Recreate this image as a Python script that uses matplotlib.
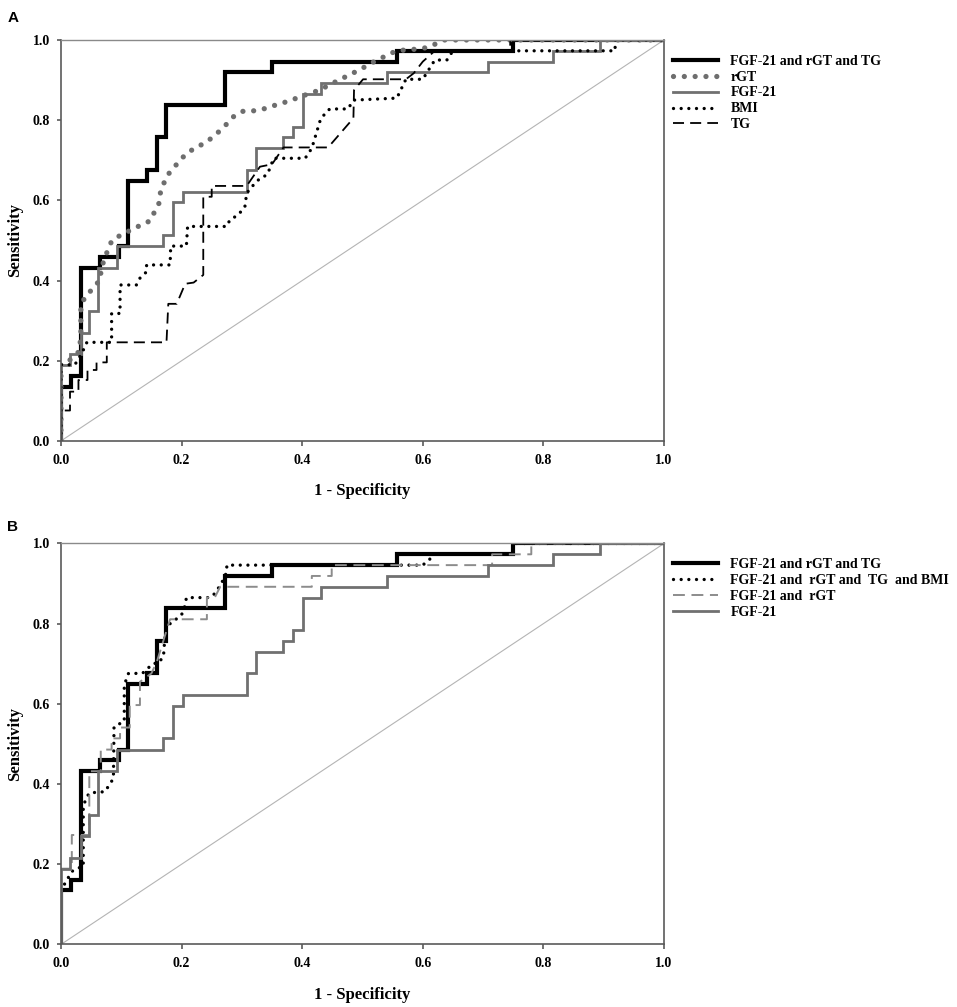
import matplotlib
matplotlib.use('Agg')
import matplotlib.pyplot as plt

plt.rcParams['font.family'] = ['Liberation Serif', 'DejaVu Serif']
plt.rcParams['font.weight'] = 'bold'

# ROC curves: x = 1 - specificity, y = sensitivity
combo3_x = [0, 0, 0.016, 0.016, 0.033, 0.033, 0.065, 0.065, 0.097, 0.097, 0.112, 0.112, 0.143, 0.143,
            0.160, 0.160, 0.174, 0.174, 0.272, 0.272, 0.350, 0.350, 0.557, 0.557, 0.750, 0.750, 1.0]
combo3_y = [0, 0.135, 0.135, 0.162, 0.162, 0.432, 0.432, 0.459, 0.459, 0.486, 0.486, 0.649, 0.649, 0.676,
            0.676, 0.757, 0.757, 0.838, 0.838, 0.919, 0.919, 0.946, 0.946, 0.973, 0.973, 1.0, 1.0]

rgt_x = [0, 0, 0.012, 0.030, 0.033, 0.033, 0.040, 0.055, 0.066, 0.066, 0.073, 0.078, 0.085, 0.100, 0.116,
         0.132, 0.148, 0.156, 0.164, 0.165, 0.171, 0.179, 0.193, 0.208, 0.224, 0.240, 0.256, 0.272, 0.287,
         0.303, 0.318, 0.334, 0.350, 0.366, 0.382, 0.398, 0.413, 0.429, 0.445, 0.461, 0.477, 0.493, 0.509,
         0.524, 0.540, 0.556, 0.571, 0.588, 0.603, 0.618, 0.636, 1.0]
rgt_y = [0, 0.190, 0.198, 0.223, 0.260, 0.335, 0.360, 0.383, 0.405, 0.430, 0.455, 0.479, 0.501, 0.514, 0.526,
         0.538, 0.549, 0.574, 0.597, 0.621, 0.644, 0.667, 0.692, 0.717, 0.732, 0.744, 0.763, 0.786, 0.810,
         0.823, 0.823, 0.827, 0.835, 0.842, 0.850, 0.859, 0.867, 0.875, 0.888, 0.900, 0.912, 0.924, 0.937,
         0.950, 0.961, 0.973, 0.975, 0.977, 0.980, 0.988, 1.0, 1.0]

fgf_x = [0, 0, 0.015, 0.015, 0.034, 0.034, 0.047, 0.047, 0.062, 0.062, 0.093, 0.093, 0.170, 0.170, 0.185,
         0.185, 0.202, 0.202, 0.308, 0.308, 0.323, 0.323, 0.369, 0.369, 0.385, 0.385, 0.402, 0.402, 0.432,
         0.432, 0.540, 0.540, 0.708, 0.708, 0.816, 0.816, 0.894, 0.894, 1.0]
fgf_y = [0, 0.189, 0.189, 0.216, 0.216, 0.270, 0.270, 0.324, 0.324, 0.432, 0.432, 0.486, 0.486, 0.514, 0.514,
         0.595, 0.595, 0.622, 0.622, 0.676, 0.676, 0.730, 0.730, 0.757, 0.757, 0.784, 0.784, 0.865, 0.865,
         0.892, 0.892, 0.919, 0.919, 0.946, 0.946, 0.973, 0.973, 1.0, 1.0]

bmi_x = [0, 0, 0.023, 0.035, 0.043, 0.084, 0.084, 0.098, 0.098, 0.125, 0.131, 0.142, 0.142, 0.181, 0.182,
         0.208, 0.210, 0.275, 0.280, 0.294, 0.305, 0.308, 0.319, 0.330, 0.341, 0.348, 0.352, 0.405, 0.416,
         0.421, 0.430, 0.440, 0.446, 0.476, 0.485, 0.557, 0.572, 0.600, 0.620, 0.640, 0.650, 0.919, 0.919, 1.0]
bmi_y = [0, 0.190, 0.190, 0.220, 0.246, 0.246, 0.318, 0.318, 0.389, 0.389, 0.406, 0.422, 0.439, 0.439, 0.486,
         0.486, 0.535, 0.535, 0.551, 0.564, 0.584, 0.618, 0.638, 0.655, 0.663, 0.684, 0.705, 0.705, 0.730,
         0.755, 0.800, 0.821, 0.828, 0.828, 0.850, 0.855, 0.902, 0.902, 0.950, 0.950, 0.973, 0.973, 1.0, 1.0]

tg_x = [0, 0, 0.015, 0.015, 0.029, 0.029, 0.044, 0.044, 0.059, 0.059, 0.076, 0.076, 0.175, 0.178, 0.192,
        0.206, 0.220, 0.236, 0.236, 0.250, 0.250, 0.308, 0.330, 0.350, 0.369, 0.443, 0.485, 0.486, 0.501,
        0.572, 0.585, 0.600, 0.620, 0.745, 0.745, 1.0]
tg_y = [0, 0.076, 0.076, 0.123, 0.123, 0.152, 0.152, 0.177, 0.177, 0.196, 0.196, 0.246, 0.246, 0.342, 0.342,
        0.392, 0.395, 0.414, 0.609, 0.609, 0.636, 0.636, 0.684, 0.690, 0.732, 0.732, 0.805, 0.875, 0.902,
        0.902, 0.917, 0.946, 0.973, 0.973, 1.0, 1.0]

combo4_x = [0, 0, 0.018, 0.027, 0.037, 0.037, 0.041, 0.047, 0.073, 0.078, 0.087, 0.088, 0.098, 0.105, 0.105,
            0.112, 0.135, 0.153, 0.161, 0.170, 0.172, 0.174, 0.181, 0.189, 0.200, 0.206, 0.208, 0.247, 0.255,
            0.266, 0.275, 0.275, 0.600, 0.611, 0.620, 0.750, 0.750, 1.0]
combo4_y = [0, 0.135, 0.182, 0.190, 0.194, 0.343, 0.362, 0.378, 0.381, 0.393, 0.414, 0.543, 0.551, 0.556, 0.647,
            0.676, 0.676, 0.701, 0.701, 0.718, 0.759, 0.784, 0.800, 0.809, 0.822, 0.846, 0.865, 0.865, 0.875,
            0.900, 0.929, 0.946, 0.946, 0.960, 0.973, 0.973, 1.0, 1.0]

combo2_x = [0, 0, 0.018, 0.018, 0.047, 0.047, 0.066, 0.066, 0.084, 0.084, 0.098, 0.098, 0.114, 0.114, 0.131,
            0.131, 0.150, 0.159, 0.172, 0.181, 0.242, 0.242, 0.255, 0.264, 0.416, 0.416, 0.449, 0.449, 0.715,
            0.715, 0.780, 0.780, 1.0]
combo2_y = [0, 0.189, 0.189, 0.273, 0.273, 0.432, 0.432, 0.486, 0.486, 0.514, 0.514, 0.541, 0.541, 0.597, 0.597,
            0.655, 0.676, 0.705, 0.768, 0.811, 0.811, 0.865, 0.865, 0.892, 0.892, 0.919, 0.919, 0.946, 0.946,
            0.973, 0.973, 1.0, 1.0]

ticks = [0.0, 0.2, 0.4, 0.6, 0.8, 1.0]
tick_labels = ['0.0', '0.2', '0.4', '0.6', '0.8', '1.0']

labelsA = ['FGF-21 and rGT and TG', 'rGT', 'FGF-21', 'BMI', 'TG']
labelsB = ['FGF-21 and rGT and TG', 'FGF-21 and  rGT and  TG  and BMI', 'FGF-21 and  rGT', 'FGF-21']

spine_col = '#5a5a5a'


def style_axes(ax):
    ax.set_xlim(0, 1)
    ax.set_ylim(0, 1)
    ax.set_xticks(ticks)
    ax.set_yticks(ticks)
    ax.set_xticklabels(tick_labels)
    ax.set_yticklabels(tick_labels)
    for s in ax.spines.values():
        s.set_color(spine_col)
        s.set_linewidth(1.2)
    ax.spines['top'].set_color('#8a8a8a')
    ax.spines['top'].set_linewidth(1.0)
    ax.tick_params(axis='x', direction='out', length=3.6, width=1.2, colors=spine_col,
                   labelcolor='k', labelsize=10, pad=5.5)
    ax.tick_params(axis='y', direction='out', length=3.0, width=1.2, colors=spine_col,
                   labelcolor='k', labelsize=10, pad=5)
    ax.set_xlabel('1 - Specificity', fontsize=12, fontweight='bold', va='center')
    ax.set_ylabel('Sensitivity', fontsize=12, fontweight='bold', va='center')
    ax.xaxis.set_label_coords(0.5, -0.126)
    ax.yaxis.set_label_coords(-0.076, 0.5)
    ax.plot([0, 1], [0, 1], color='#b4b4b4', linewidth=0.8, zorder=1)


fig = plt.figure(figsize=(9.57, 10.07), dpi=100, facecolor='w')

axA = fig.add_axes([0.0637, 0.5621, 0.6301, 0.3982])
style_axes(axA)
axA.plot(combo3_x, combo3_y, color='k', linewidth=3.0, solid_joinstyle='miter', label=labelsA[0])
axA.plot(rgt_x, rgt_y, color='#6e6e6e', linewidth=3.8, linestyle=(0, (0.001, 2.05)),
         dash_capstyle='round', label=labelsA[1])
axA.plot(fgf_x, fgf_y, color='#707070', linewidth=2.0, solid_joinstyle='miter', label=labelsA[2])
axA.plot(bmi_x, bmi_y, color='k', linewidth=2.4, linestyle=(0, (0.001, 2.3)),
         dash_capstyle='round', label=labelsA[3])
axA.plot(tg_x, tg_y, color='k', linewidth=1.3, linestyle=(0, (6.1, 3.4)), label=labelsA[4])
axA.legend(loc='upper left', bbox_to_anchor=(1.0144, 0.9635), frameon=False, borderpad=0,
           borderaxespad=0, handlelength=3.3, handletextpad=0.86, labelspacing=0.21,
           prop={'size': 10, 'weight': 'bold'})

axB = fig.add_axes([0.0637, 0.0621, 0.6301, 0.3982])
style_axes(axB)
axB.plot(combo3_x, combo3_y, color='k', linewidth=3.0, solid_joinstyle='miter', label=labelsB[0])
axB.plot(combo4_x, combo4_y, color='k', linewidth=2.4, linestyle=(0, (0.001, 2.3)),
         dash_capstyle='round', label=labelsB[1])
axB.plot(combo2_x, combo2_y, color='#8c8c8c', linewidth=1.4, linestyle=(0, (6.1, 3.4)), label=labelsB[2])
axB.plot(fgf_x, fgf_y, color='#707070', linewidth=2.0, solid_joinstyle='miter', label=labelsB[3])
axB.legend(loc='upper left', bbox_to_anchor=(1.0144, 0.9635), frameon=False, borderpad=0,
           borderaxespad=0, handlelength=3.3, handletextpad=0.86, labelspacing=0.21,
           prop={'size': 10, 'weight': 'bold'})

fig.text(13 / 957, 1 - 18.3 / 1007, 'A', ha='center', va='center', family='Liberation Sans',
         fontweight='bold', fontsize=11)
fig.text(12 / 957, 1 - 527 / 1007, 'B', ha='center', va='center', family='Liberation Sans',
         fontweight='bold', fontsize=11)

fig.savefig('out.png', dpi=100)
